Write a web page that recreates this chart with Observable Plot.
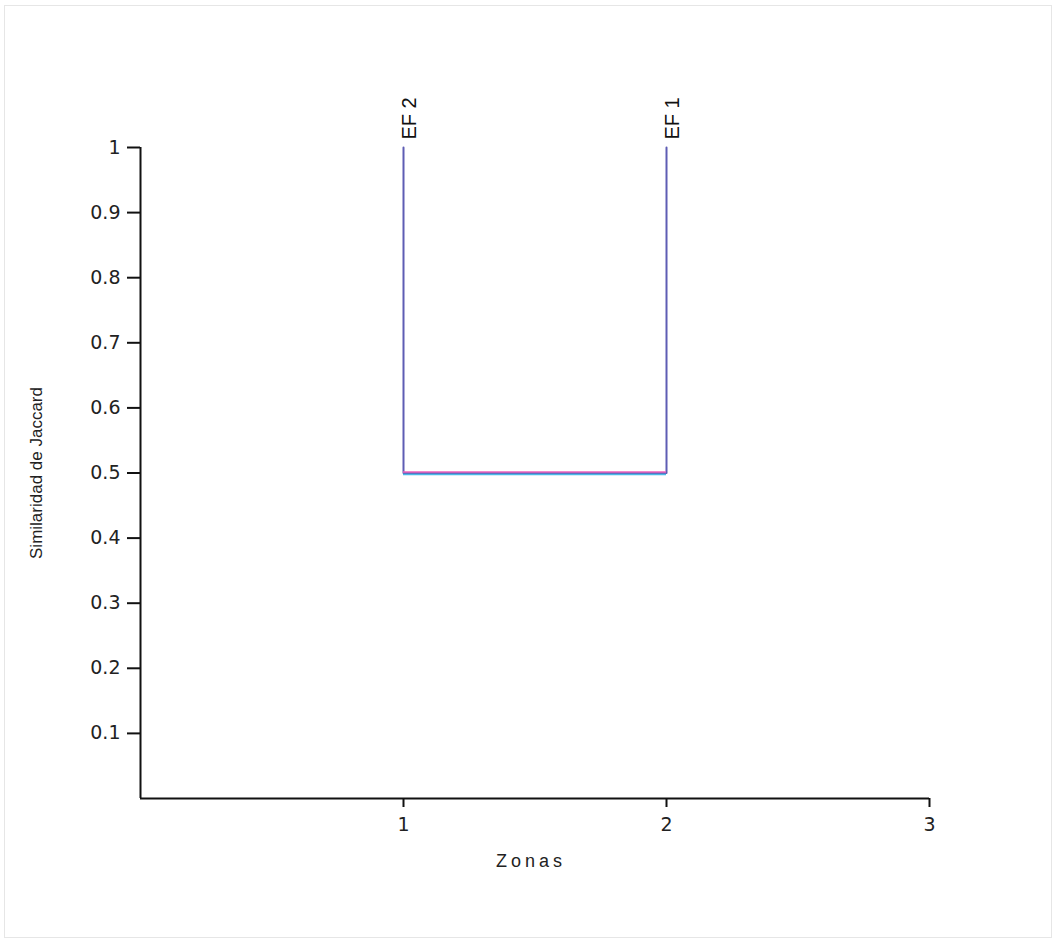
<!DOCTYPE html>
<html>
<head>
<meta charset="utf-8">
<script src="https://cdn.jsdelivr.net/npm/d3@7"></script>
<script src="https://cdn.jsdelivr.net/npm/@observablehq/plot@0.6"></script>
<style>
  html, body { margin: 0; padding: 0; background: #fff; }
  #wrap { position: relative; width: 1054px; height: 940px; }
  #edge { position: absolute; left: 4px; top: 5px; width: 1046px; height: 931px; border: 1px solid #e6e6e6; pointer-events: none; }
  .spaced text { letter-spacing: 4px; }
</style>
</head>
<body>
<div id="wrap"><div id="edge"></div></div>
<script>
// Leaves of the dendrogram (zone position and name)
const leafNames = ["EF 2", "EF 1"];
const leafPositions = [1, 2];
// Similarity at which the two leaves join
const joinSimilarity = 0.5;
// Axis ticks
const yTicks = [0.1, 0.2, 0.3, 0.4, 0.5, 0.6, 0.7, 0.8, 0.9, 1];
const xTicks = [1, 2, 3];
const xLabel = "Zonas";
const yLabel = "Similaridad de Jaccard";

const leaves = leafNames.map((name, i) => ({name, x: leafPositions[i], y: 1}));
const uPath = [
  {x: leafPositions[0], y: 1},
  {x: leafPositions[0], y: joinSimilarity},
  {x: leafPositions[1], y: joinSimilarity},
  {x: leafPositions[1], y: 1}
];

const chart = Plot.plot({
  width: 1054,
  height: 940,
  marginLeft: 140,
  marginRight: 125,
  marginTop: 147,
  marginBottom: 142,
  style: {fontFamily: "'Liberation Sans', Arial, sans-serif", fontSize: "17px", color: "#222", background: "transparent"},
  x: {domain: [0, 3]},
  y: {domain: [0, 1]},
  marks: [
    // axis lines
    Plot.ruleX([0], {y1: 0, y2: 1, stroke: "#111", strokeWidth: 2}),
    Plot.ruleY([0], {x1: 0, x2: 3, stroke: "#111", strokeWidth: 2}),
    Plot.axisY({ticks: yTicks, tickFormat: d => String(d), tickSize: 13, tickPadding: 7, strokeWidth: 2, stroke: "#111", label: null, fontSize: 19, fontFamily: "'DejaVu Sans', sans-serif", fill: "#222"}),
    Plot.axisX({ticks: xTicks, tickFormat: d => String(d), tickSize: 9, tickPadding: 10, strokeWidth: 2, stroke: "#111", label: null, fontSize: 19, fontFamily: "'DejaVu Sans', sans-serif", fill: "#222"}),
    // dendrogram
    Plot.line(uPath, {x: "x", y: "y", stroke: "#5e5db4", strokeWidth: 2}),
    Plot.ruleY([joinSimilarity], {x1: leafPositions[0], x2: leafPositions[1], stroke: "#ef62bc", strokeWidth: 1.3, dy: -1}),
    Plot.ruleY([joinSimilarity], {x1: leafPositions[0], x2: leafPositions[1], stroke: "#4ab8e6", strokeWidth: 1.3, dy: 1.5}),
    Plot.text(leaves, {x: "x", y: "y", text: "name", rotate: -90, textAnchor: "start", dy: -8, dx: 6, fontSize: 20, fill: "#111"}),
    // axis titles
    Plot.text([xLabel], {frameAnchor: "bottom", textAnchor: "middle", lineAnchor: "middle", dy: 63, dx: -4, fontSize: 18, fill: "#222", className: "spaced"}),
    Plot.text([yLabel], {frameAnchor: "left", textAnchor: "middle", lineAnchor: "middle", rotate: -90, dx: -104, fontSize: 17, fill: "#222"})
  ]
});
document.getElementById("wrap").appendChild(chart);
</script>
</body>
</html>
